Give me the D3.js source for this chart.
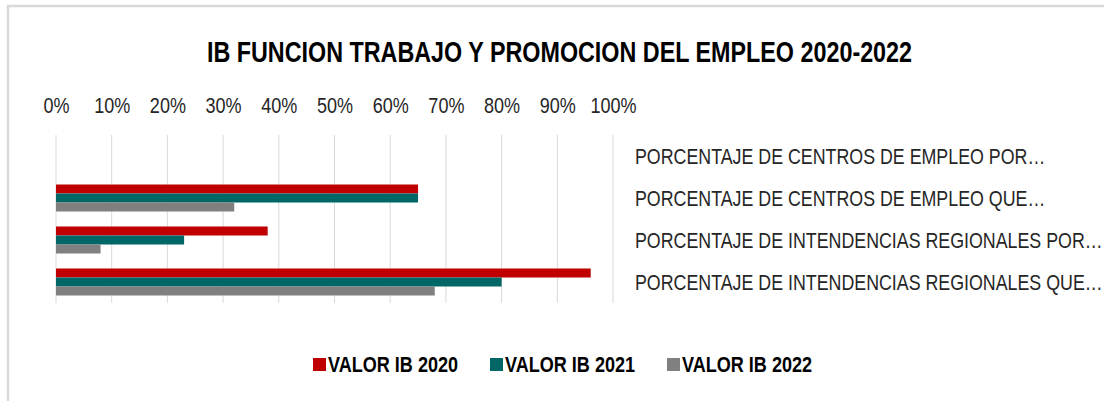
<!DOCTYPE html>
<html>
<head>
<meta charset="utf-8">
<script src="https://cdn.jsdelivr.net/npm/d3@7"></script>
<style>
  body { margin: 0; background: #fff; }
  svg { display: block; }
</style>
</head>
<body>
<svg id="chart" width="1104" height="401"></svg>
<script>
var categories = [
  "PORCENTAJE DE CENTROS DE EMPLEO POR…",
  "PORCENTAJE DE CENTROS DE EMPLEO QUE…",
  "PORCENTAJE DE INTENDENCIAS REGIONALES POR…",
  "PORCENTAJE DE INTENDENCIAS REGIONALES QUE…"
];
var seriesNames = ["VALOR IB 2020", "VALOR IB 2021", "VALOR IB 2022"];
var valor2020 = [null, 0.65, 0.38, 0.96];
var valor2021 = [null, 0.65, 0.23, 0.80];
var valor2022 = [null, 0.32, 0.08, 0.68];
var tickValues = [0, 0.1, 0.2, 0.3, 0.4, 0.5, 0.6, 0.7, 0.8, 0.9, 1];
var colors = ["#c00000", "#006666", "#808080"];

// no Arial Narrow here, so squeeze Liberation Sans horizontally
var font = "'Liberation Sans', Arial, sans-serif";
function squeeze(x, y, sx) {
  return "translate(" + x + "," + y + ") scale(" + sx + ",1)";
}

var svg = d3.select("#chart");

// chart frame
svg.append("rect")
  .attr("x", 8).attr("y", 6)
  .attr("width", 1120).attr("height", 420)
  .attr("fill", "none")
  .attr("stroke", "#d9d9d9")
  .attr("stroke-width", 2.5);

svg.append("text")
  .attr("transform", squeeze(559.5, 62, 0.778))
  .attr("text-anchor", "middle")
  .attr("font-family", font)
  .attr("font-weight", "bold")
  .attr("font-size", 30)
  .attr("fill", "#000")
  .text("IB FUNCION TRABAJO Y PROMOCION DEL EMPLEO 2020-2022");

var x = d3.scaleLinear().domain([0, 1]).range([56, 613]);
var y = d3.scaleBand().domain(categories).range([135, 303])
  .paddingInner(0.357).paddingOuter(0.1785);
var ySub = d3.scaleBand().domain(seriesNames).range([0, y.bandwidth()]);

// gridlines
svg.append("g")
  .selectAll("line")
  .data(tickValues)
  .enter().append("line")
    .attr("x1", function(d) { return x(d); })
    .attr("x2", function(d) { return x(d); })
    .attr("y1", 135).attr("y2", 303)
    .attr("stroke", "#d9d9d9")
    .attr("stroke-width", 1);

// top axis labels
var xAxis = d3.axisTop(x).tickValues(tickValues).tickFormat(d3.format(".0%")).tickSize(0).tickPadding(0);
var gx = svg.append("g")
  .attr("transform", "translate(0,113)")
  .call(xAxis);
gx.select(".domain").remove();
gx.selectAll("text")
  .attr("font-family", font)
  .attr("font-size", 22)
  .attr("fill", "#262626")
  .attr("y", 0)
  .attr("dy", 0)
  .attr("transform", "scale(0.82,1)");

// bars
var seriesData = [valor2020, valor2021, valor2022];
seriesData.forEach(function(vals, si) {
  svg.append("g")
    .selectAll("rect")
    .data(vals.map(function(v, i) { return {cat: categories[i], v: v}; })
      .filter(function(d) { return d.v !== null; }))
    .enter().append("rect")
      .attr("x", x(0))
      .attr("y", function(d) { return y(d.cat) + ySub(seriesNames[si]); })
      .attr("width", function(d) { return x(d.v) - x(0); })
      .attr("height", ySub.bandwidth())
      .attr("fill", colors[si]);
});

// category labels on the right
svg.append("g")
  .selectAll("text")
  .data(categories)
  .enter().append("text")
    .attr("transform", function(d) { return squeeze(635, y(d) + y.bandwidth() / 2 + 7.7, 0.81); })
    .attr("font-family", font)
    .attr("font-size", 22)
    .attr("fill", "#262626")
    .text(function(d) { return d; });

// legend
var legendX = [313, 490, 667];
var lg = svg.append("g")
  .selectAll("g")
  .data(seriesNames)
  .enter().append("g")
    .attr("transform", function(d, i) { return "translate(" + legendX[i] + ",358)"; });
lg.append("rect")
  .attr("width", 13).attr("height", 13)
  .attr("fill", function(d, i) { return colors[i]; });
lg.append("text")
  .attr("transform", squeeze(15, 14.3, 0.84))
  .attr("font-family", font)
  .attr("font-weight", "bold")
  .attr("font-size", 21.5)
  .attr("fill", "#000")
  .text(function(d) { return d; });
</script>
</body>
</html>
